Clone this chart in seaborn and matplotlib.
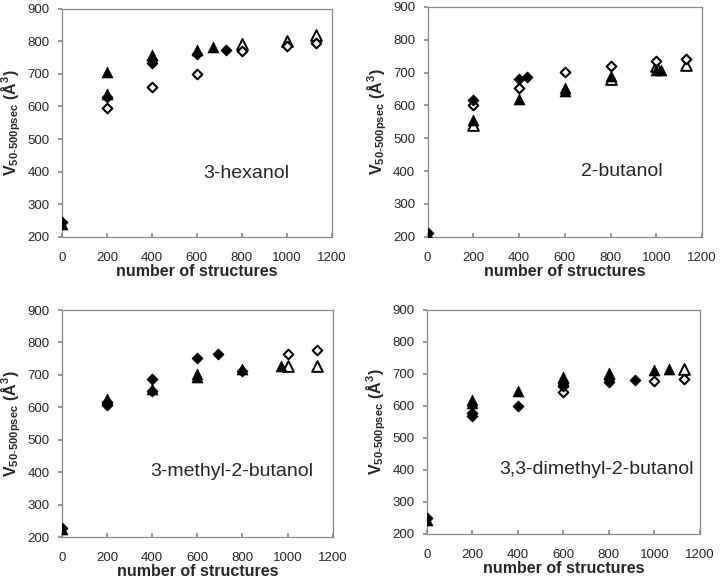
import matplotlib
matplotlib.use("Agg")
import matplotlib.pyplot as plt
import seaborn as sns
import pandas as pd

sns.set_theme(style="white")
plt.rcParams['font.family'] = ['Liberation Sans', 'DejaVu Sans']

titles = ["3-hexanol", "2-butanol", "3-methyl-2-butanol", "3,3-dimethyl-2-butanol"]

# --- 3-hexanol ---
hex_ft_x = [0, 200, 200, 400, 600, 670]
hex_ft_y = [238, 706, 638, 757, 772, 781]
hex_fd_x = [0, 200, 400, 400, 600, 730]
hex_fd_y = [245, 630, 742, 732, 760, 772]
hex_ot_x = [800, 1000, 1130]
hex_ot_y = [791, 801, 818]
hex_od_x = [200, 400, 600, 800, 1000, 1130]
hex_od_y = [595, 660, 699, 771, 785, 795]

# --- 2-butanol ---
but_ft_x = [0, 200, 400, 600, 600, 800, 1000, 1020]
but_ft_y = [205, 557, 620, 653, 643, 691, 709, 707]
but_fd_x = [0, 200, 400, 435]
but_fd_y = [212, 618, 681, 687]
but_ot_x = [200, 800, 1000, 1130]
but_ot_y = [542, 681, 719, 724]
but_od_x = [200, 400, 600, 800, 1000, 1130]
but_od_y = [600, 653, 701, 719, 735, 742]

# --- 3-methyl-2-butanol ---
mb_ft_x = [0, 200, 400, 600, 600, 800, 970]
mb_ft_y = [225, 627, 655, 704, 692, 717, 727]
mb_fd_x = [0, 200, 200, 400, 400, 600, 690, 800]
mb_fd_y = [229, 617, 607, 686, 651, 753, 764, 712]
mb_ot_x = [1000, 1130]
mb_ot_y = [727, 727]
mb_od_x = [1000, 1130]
mb_od_y = [766, 776]

# --- 3,3-dimethyl-2-butanol ---
dmb_ft_x = [0, 200, 200, 400, 600, 600, 800, 1000, 1065]
dmb_ft_y = [242, 619, 608, 645, 690, 676, 702, 712, 715]
dmb_fd_x = [0, 200, 200, 400, 600, 600, 800, 800, 915]
dmb_fd_y = [249, 579, 569, 600, 672, 662, 683, 673, 681]
dmb_ot_x = [1130]
dmb_ot_y = [715]
dmb_od_x = [600, 1000, 1130]
dmb_od_y = [642, 679, 683]

panels = [
    (hex_ft_x, hex_ft_y, hex_fd_x, hex_fd_y, hex_ot_x, hex_ot_y, hex_od_x, hex_od_y),
    (but_ft_x, but_ft_y, but_fd_x, but_fd_y, but_ot_x, but_ot_y, but_od_x, but_od_y),
    (mb_ft_x, mb_ft_y, mb_fd_x, mb_fd_y, mb_ot_x, mb_ot_y, mb_od_x, mb_od_y),
    (dmb_ft_x, dmb_ft_y, dmb_fd_x, dmb_fd_y, dmb_ot_x, dmb_ot_y, dmb_od_x, dmb_od_y),
]
label_pos = [(630, 395), (672, 400), (390, 401), (319, 400)]

axes_rects = [
    [0.086, 0.591, 0.375, 0.394],
    [0.594, 0.591, 0.381, 0.397],
    [0.086, 0.0725, 0.376, 0.392],
    [0.593, 0.078, 0.379, 0.387],
]

fig = plt.figure(figsize=(7.2, 5.79), dpi=100)

for rect, data, title, lp in zip(axes_rects, panels, titles, label_pos):
    ax = fig.add_axes(rect)
    ftx, fty, fdx, fdy, otx, oty, odx, ody = data
    sns.scatterplot(x=otx, y=oty, ax=ax, marker='^', s=60, facecolor='white',
                    edgecolor='black', linewidth=1.4, zorder=3)
    sns.scatterplot(x=odx, y=ody, ax=ax, marker='D', s=24, facecolor='white',
                    edgecolor='black', linewidth=1.5, zorder=3)
    sns.scatterplot(x=ftx, y=fty, ax=ax, marker='^', s=62, color='black',
                    edgecolor='black', linewidth=0.5, zorder=4)
    sns.scatterplot(x=fdx, y=fdy, ax=ax, marker='D', s=32, color='black',
                    edgecolor='black', linewidth=0.5, zorder=4)
    ax.set_xlim(0, 1200)
    ax.set_ylim(200, 900)
    ax.set_xticks(range(0, 1201, 200))
    ax.set_yticks(range(200, 901, 100))
    for sp in ax.spines.values():
        sp.set_color('#8a8a8a')
        sp.set_linewidth(0.9)
    ax.tick_params(axis='x', direction='in', length=3, color='#8a8a8a',
                   labelsize=9.5, pad=11, bottom=True)
    ax.tick_params(axis='y', direction='out', length=3, color='#8a8a8a',
                   labelsize=9.5, pad=6, left=True)
    ax.set_xlabel('number of structures', fontsize=11.5, fontweight='bold', labelpad=0)
    ax.set_ylabel(r'V$_{\mathregular{50\text{-}500psec}}$ (Å$^{\mathregular{3}}$)',
                  fontsize=11.5, fontweight='bold', labelpad=3)
    ax.text(lp[0], lp[1], title, fontsize=14, ha='left', va='center')
    ax.set_facecolor('white')

fig.savefig('out.png', dpi=100, facecolor='white')
